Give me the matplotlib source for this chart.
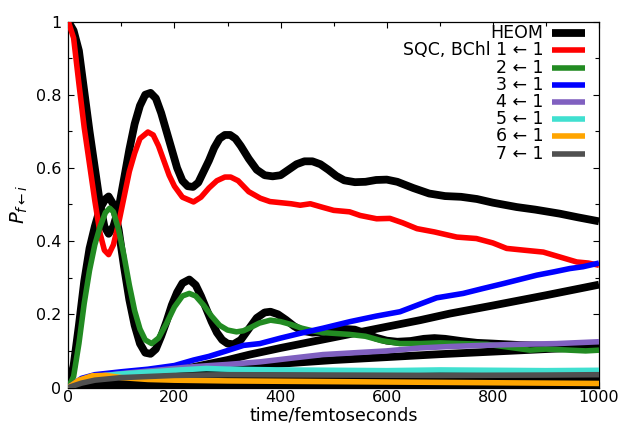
import matplotlib
matplotlib.use("Agg")
import matplotlib.pyplot as plt
from matplotlib.ticker import MultipleLocator
from matplotlib.lines import Line2D

plt.rcParams['font.family'] = ['DejaVu Sans']
plt.rcParams['mathtext.fontset'] = 'dejavusans'

# ---------------- HEOM (black) ----------------
heom1_t = [0, 10, 20, 30, 40, 50, 60, 68, 76, 85, 95, 105, 115, 125, 135, 145, 155, 165, 175, 185,
           195, 205, 215, 225, 235, 245, 255, 265, 275, 285, 295, 305, 315, 325, 340, 355, 370, 385,
           400, 415, 430, 445, 460, 475, 490, 505, 520, 540, 560, 580, 600, 620, 650, 680, 710, 740,
           770, 800, 845, 880, 926, 960, 1000]
heom1_p = [1.0, 0.975, 0.92, 0.81, 0.70, 0.60, 0.50, 0.44, 0.42, 0.44, 0.49, 0.57, 0.65, 0.72, 0.77,
           0.80, 0.805, 0.79, 0.75, 0.70, 0.65, 0.60, 0.565, 0.55, 0.548, 0.56, 0.59, 0.62, 0.655,
           0.68, 0.69, 0.69, 0.68, 0.66, 0.625, 0.595, 0.58, 0.577, 0.58, 0.595, 0.61, 0.618, 0.618,
           0.61, 0.595, 0.578, 0.566, 0.561, 0.562, 0.567, 0.568, 0.562, 0.545, 0.53, 0.523, 0.521,
           0.515, 0.505, 0.493, 0.486, 0.475, 0.465, 0.454]

heom2_t = [0, 10, 20, 30, 40, 50, 60, 70, 76, 85, 95, 105, 115, 125, 135, 145, 155, 165, 175, 185,
           195, 205, 215, 228, 240, 250, 260, 270, 280, 290, 300, 311, 325, 340, 355, 370, 381, 395,
           410, 425, 440, 460, 480, 500, 520, 540, 560, 580, 600, 620, 645, 670, 690, 710, 740, 770,
           800, 850, 900, 950, 1000]
heom2_p = [0.0, 0.06, 0.17, 0.29, 0.38, 0.44, 0.49, 0.515, 0.522, 0.50, 0.43, 0.33, 0.24, 0.17, 0.12,
           0.095, 0.092, 0.105, 0.14, 0.18, 0.225, 0.26, 0.285, 0.295, 0.28, 0.25, 0.215, 0.18, 0.15,
           0.13, 0.12, 0.118, 0.13, 0.16, 0.19, 0.205, 0.207, 0.20, 0.185, 0.168, 0.155, 0.15, 0.152,
           0.157, 0.16, 0.158, 0.148, 0.136, 0.128, 0.125, 0.127, 0.133, 0.135, 0.133, 0.127, 0.122,
           0.12, 0.116, 0.114, 0.112, 0.11]

heom3_t = [0, 50, 100, 200, 300, 342, 400, 500, 600, 663, 719, 800, 900, 1000]
heom3_p = [0.0, 0.01, 0.02, 0.045, 0.075, 0.09, 0.108, 0.137, 0.166, 0.184, 0.202, 0.224, 0.252, 0.281]

heom4_t = [0, 50, 100, 200, 300, 400, 500, 600, 700, 800, 900, 1000]
heom4_p = [0.0, 0.012, 0.025, 0.04, 0.053, 0.065, 0.075, 0.083, 0.091, 0.098, 0.105, 0.112]

heom5_t = [0, 50, 100, 200, 400, 600, 800, 1000]
heom5_p = [0.0, 0.015, 0.025, 0.03, 0.032, 0.033, 0.034, 0.035]

heom6_t = [0, 50, 100, 300, 600, 1000]
heom6_p = [0.0, 0.008, 0.012, 0.02, 0.021, 0.022]

heom7_t = [0, 100, 500, 1000]
heom7_p = [0.0, 0.003, 0.004, 0.005]

# ---------------- SQC (coloured) ----------------
sqc1_t = [0, 10, 20, 30, 40, 50, 60, 68, 76, 85, 95, 105, 115, 125, 135, 150, 160, 170, 180, 190,
          200, 215, 236, 250, 265, 280, 295, 306, 320, 340, 362, 380, 400, 420, 437, 456, 480, 500,
          530, 550, 581, 606, 630, 657, 690, 732, 769, 800, 826, 860, 895, 930, 958, 980, 1000]
sqc1_p = [1.0, 0.955, 0.83, 0.71, 0.61, 0.51, 0.42, 0.375, 0.363, 0.39, 0.45, 0.52, 0.59, 0.64,
          0.68, 0.698, 0.69, 0.66, 0.62, 0.58, 0.55, 0.52, 0.507, 0.52, 0.545, 0.565, 0.575, 0.575,
          0.565, 0.535, 0.517, 0.508, 0.505, 0.502, 0.498, 0.502, 0.492, 0.484, 0.48, 0.47, 0.461,
          0.462, 0.45, 0.434, 0.425, 0.411, 0.407, 0.395, 0.38, 0.375, 0.37, 0.355, 0.343, 0.34,
          0.334]

sqc2_t = [0, 10, 20, 30, 40, 50, 60, 70, 78, 85, 95, 105, 115, 125, 135, 145, 157, 170, 185, 200,
          215, 228, 240, 255, 270, 285, 300, 317, 330, 345, 360, 381, 400, 420, 440, 460, 480, 500,
          530, 560, 590, 625, 663, 700, 740, 789, 830, 870, 900, 945, 975, 1000]
sqc2_p = [0.0, 0.03, 0.12, 0.23, 0.32, 0.39, 0.44, 0.478, 0.49, 0.48, 0.43, 0.36, 0.28, 0.21, 0.16,
          0.13, 0.12, 0.135, 0.175, 0.22, 0.25, 0.257, 0.25, 0.225, 0.195, 0.17, 0.157, 0.152, 0.155,
          0.165, 0.176, 0.184, 0.18, 0.172, 0.162, 0.155, 0.15, 0.148, 0.145, 0.14, 0.128, 0.12, 0.12,
          0.122, 0.12, 0.118, 0.11, 0.102, 0.105, 0.102, 0.10, 0.102]

sqc3_t = [0, 25, 50, 100, 150, 200, 236, 265, 298, 330, 361, 400, 437, 480, 531, 580, 625, 663, 694,
          744, 780, 820, 850, 883, 915, 945, 970, 1000]
sqc3_p = [0.0, 0.025, 0.035, 0.043, 0.05, 0.06, 0.075, 0.085, 0.10, 0.115, 0.12, 0.135, 0.148, 0.162,
          0.18, 0.195, 0.207, 0.228, 0.245, 0.257, 0.27, 0.284, 0.295, 0.307, 0.316, 0.325, 0.33, 0.34]

sqc4_t = [0, 25, 50, 100, 173, 220, 267, 300, 361, 420, 480, 540, 600, 663, 719, 780, 850, 920, 1000]
sqc4_p = [0.0, 0.02, 0.03, 0.038, 0.048, 0.055, 0.06, 0.063, 0.07, 0.08, 0.09, 0.095, 0.10, 0.108,
          0.112, 0.115, 0.118, 0.12, 0.125]

sqc5_t = [0, 25, 50, 100, 160, 210, 260, 300, 400, 500, 600, 700, 800, 900, 1000]
sqc5_p = [0.0, 0.02, 0.03, 0.037, 0.043, 0.048, 0.052, 0.05, 0.048, 0.047, 0.046, 0.048, 0.047,
          0.046, 0.047]

sqc6_t = [0, 20, 45, 70, 100, 150, 200, 300, 500, 700, 900, 1000]
sqc6_p = [0.0, 0.02, 0.032, 0.033, 0.027, 0.022, 0.02, 0.018, 0.016, 0.014, 0.012, 0.011]

sqc7_t = [0, 25, 50, 100, 200, 300, 500, 700, 900, 1000]
sqc7_p = [0.0, 0.012, 0.02, 0.027, 0.033, 0.035, 0.034, 0.033, 0.034, 0.035]

heom_series = [(heom1_t, heom1_p), (heom2_t, heom2_p), (heom3_t, heom3_p), (heom4_t, heom4_p),
               (heom5_t, heom5_p), (heom6_t, heom6_p), (heom7_t, heom7_p)]
sqc_series = [(sqc1_t, sqc1_p), (sqc2_t, sqc2_p), (sqc3_t, sqc3_p), (sqc4_t, sqc4_p),
              (sqc5_t, sqc5_p), (sqc6_t, sqc6_p), (sqc7_t, sqc7_p)]
sqc_colors = ['#ff0000', '#228b22', '#0000ff', '#8060c0', '#40e0d0', '#ffa500', '#505050']

legend_labels = ['HEOM', 'SQC, BChl 1 \u2190 1', '2 \u2190 1', '3 \u2190 1', '4 \u2190 1',
                 '5 \u2190 1', '6 \u2190 1', '7 \u2190 1']

x_ticks = [0, 200, 400, 600, 800, 1000]
y_ticks = [0, 0.2, 0.4, 0.6, 0.8, 1]

fig = plt.figure(figsize=(6.2, 4.24), dpi=100)
ax = fig.add_axes([68.3 / 620, 1 - 387.5 / 424, 530.7 / 620, 366 / 424])

HEOM_LW = 5.6
SQC_LW = 4.0

for t, p in heom_series:
    ax.plot(t, p, color='black', lw=HEOM_LW, solid_capstyle='butt', solid_joinstyle='round',
            zorder=2)
for (t, p), c in zip(sqc_series, sqc_colors):
    ax.plot(t, p, color=c, lw=SQC_LW, solid_capstyle='butt', solid_joinstyle='round', zorder=3)

ax.set_xlim(0, 1000)
ax.set_ylim(0, 1)
ax.set_xticks(x_ticks)
ax.set_yticks(y_ticks)
ax.set_xticklabels([str(v) for v in x_ticks])
ax.set_yticklabels(['0', '0.2', '0.4', '0.6', '0.8', '1'])
ax.xaxis.set_minor_locator(MultipleLocator(100))
ax.yaxis.set_minor_locator(MultipleLocator(0.1))
ax.tick_params(which='both', direction='in', top=True, right=True, labelsize=11.5, width=0.8)
ax.tick_params(which='major', length=4.5)
ax.tick_params(which='minor', length=3)
ax.tick_params(axis='x', which='major', pad=2)
ax.tick_params(axis='y', which='major', pad=5)
for s in ax.spines.values():
    s.set_linewidth(0.9)

ax.set_xlabel('time/femtoseconds', fontsize=12.5)
ax.xaxis.set_label_coords(0.5, -0.052)
ax.set_ylabel(r'$P_{f\leftarrow i}$', fontsize=14, labelpad=4)

# gnuplot-style key: right-aligned text, sample line to its right
colors_all = ['black'] + sqc_colors
lws = [HEOM_LW] + [SQC_LW] * 7
y0 = 0.968
dy = 0.047
for i, (lab, c, lw) in enumerate(zip(legend_labels, colors_all, lws)):
    y = y0 - i * dy
    ax.text(0.895, y, lab, transform=ax.transAxes, ha='right', va='center', fontsize=12.5, zorder=5)
    ax.add_line(Line2D([0.912, 0.973], [y, y], transform=ax.transAxes, color=c, lw=lw,
                       solid_capstyle='butt', zorder=5))

fig.savefig('out.png', dpi=100)
